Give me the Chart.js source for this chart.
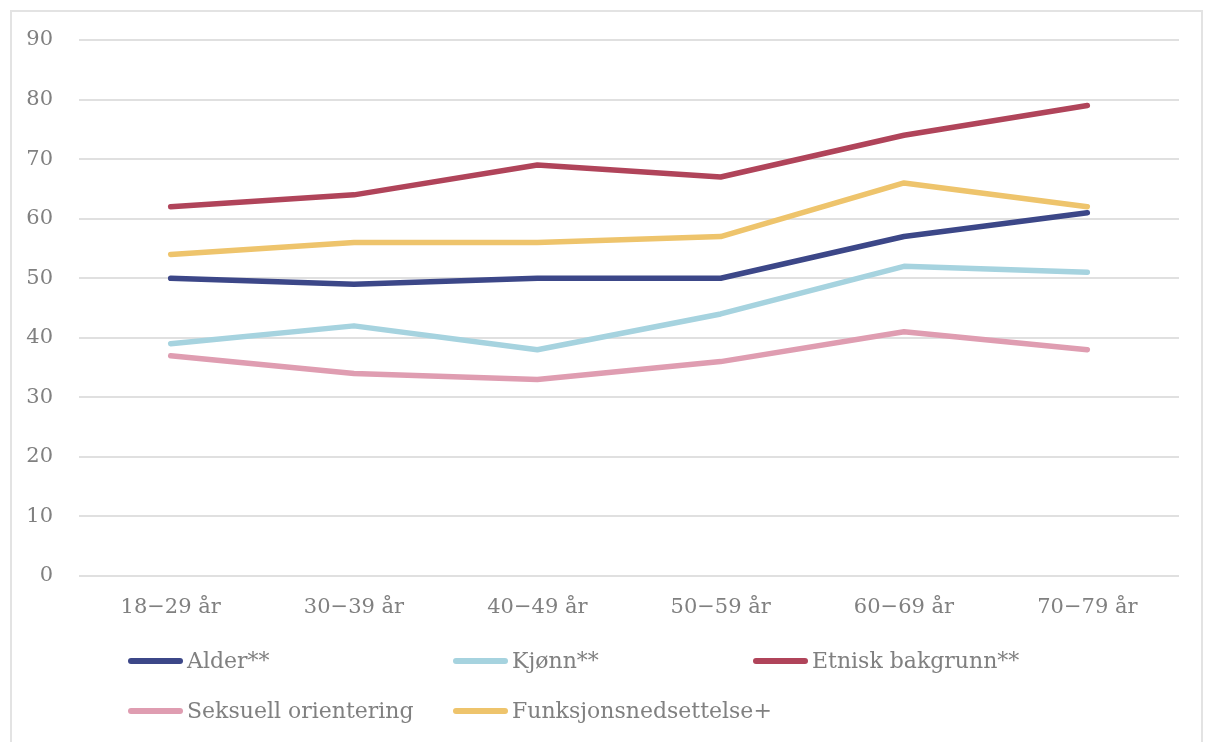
<!DOCTYPE html>
<html>
<head>
<meta charset="utf-8">
<script src="https://cdn.jsdelivr.net/npm/chart.js@4/dist/chart.umd.min.js"></script>
<style>
    body { margin: 0; background: #fff; }
    #wrap { position: relative; width: 1208px; height: 742px; overflow: hidden; }
    #frame { position: absolute; left: 10px; top: 10px; width: 1193px; height: 740px; border: 2px solid #e3e3e3; box-sizing: border-box; }
    #chart { position: absolute; left: 0; top: 0; }
    .legend-item { position: absolute; display: flex; align-items: center; font-family: "DejaVu Serif", serif; font-size: 22px; color: #808080; white-space: nowrap; }
    .legend-item .swatch { width: 55px; height: 6px; border-radius: 3px; margin-right: 4px; }
</style>
</head>
<body>
<div id="wrap">
    <div id="frame"></div>
    <canvas id="chart" width="1208" height="742"></canvas>
    <div id="legend"></div>
</div>
<script>
// Data
const categories = ['18\u221229 år', '30\u221239 år', '40\u221249 år', '50\u221259 år', '60\u221269 år', '70\u221279 år'];
const seriesNames = ['Alder**', 'Kjønn**', 'Etnisk bakgrunn**', 'Seksuell orientering', 'Funksjonsnedsettelse+'];
const alder = [50, 49, 50, 50, 57, 61];
const kjonn = [39, 42, 38, 44, 52, 51];
const etnisk = [62, 64, 69, 67, 74, 79];
const seksuell = [37, 34, 33, 36, 41, 38];
const funksjon = [54, 56, 56, 57, 66, 62];
const yTicks = [0, 10, 20, 30, 40, 50, 60, 70, 80, 90];

const seriesValues = [alder, kjonn, etnisk, seksuell, funksjon];
const seriesColors = ['#3c4788', '#a6d3df', '#b0445a', '#df9db1', '#eec46c'];

// Legend slots (left x, centre y)
const legendSlots = [[128, 663], [453, 663], [753, 663], [128, 713], [453, 713]];

const FONT = '"DejaVu Serif", serif';

const datasets = seriesNames.map((name, i) => ({
    label: name,
    data: seriesValues[i],
    borderColor: seriesColors[i],
    backgroundColor: seriesColors[i],
    borderWidth: 5.5,
    pointRadius: 0,
    tension: 0,
    borderCapStyle: 'round',
    borderJoinStyle: 'round'
}));

new Chart(document.getElementById('chart').getContext('2d'), {
    type: 'line',
    data: { labels: categories, datasets: datasets },
    options: {
        responsive: false,
        animation: false,
        layout: { padding: { top: 40, right: 29, bottom: 0, left: 0 } },
        plugins: { legend: { display: false }, tooltip: { enabled: false } },
        scales: {
            x: {
                offset: true,
                grid: { display: false, drawTicks: false },
                border: { display: false },
                ticks: { color: '#808080', font: { family: FONT, size: 21 }, padding: 19, maxRotation: 0 },
                afterFit: scale => { scale.height = 166; }
            },
            y: {
                min: 0,
                max: 90,
                afterBuildTicks: scale => { scale.ticks = yTicks.map(v => ({ value: v })); },
                grid: { color: '#e0e0e0', lineWidth: 2, drawTicks: false },
                border: { display: false },
                ticks: { color: '#808080', font: { family: FONT, size: 21 }, padding: 26 },
                afterFit: scale => { scale.width = 79; }
            }
        }
    }
});

// HTML legend
const legend = document.getElementById('legend');
seriesNames.forEach((name, i) => {
    const item = document.createElement('div');
    item.className = 'legend-item';
    item.style.left = legendSlots[i][0] + 'px';
    item.style.top = (legendSlots[i][1] - 15) + 'px';
    item.innerHTML = `<span class="swatch" style="background:${seriesColors[i]}"></span><span>${name}</span>`;
    legend.appendChild(item);
});
</script>
</body>
</html>
